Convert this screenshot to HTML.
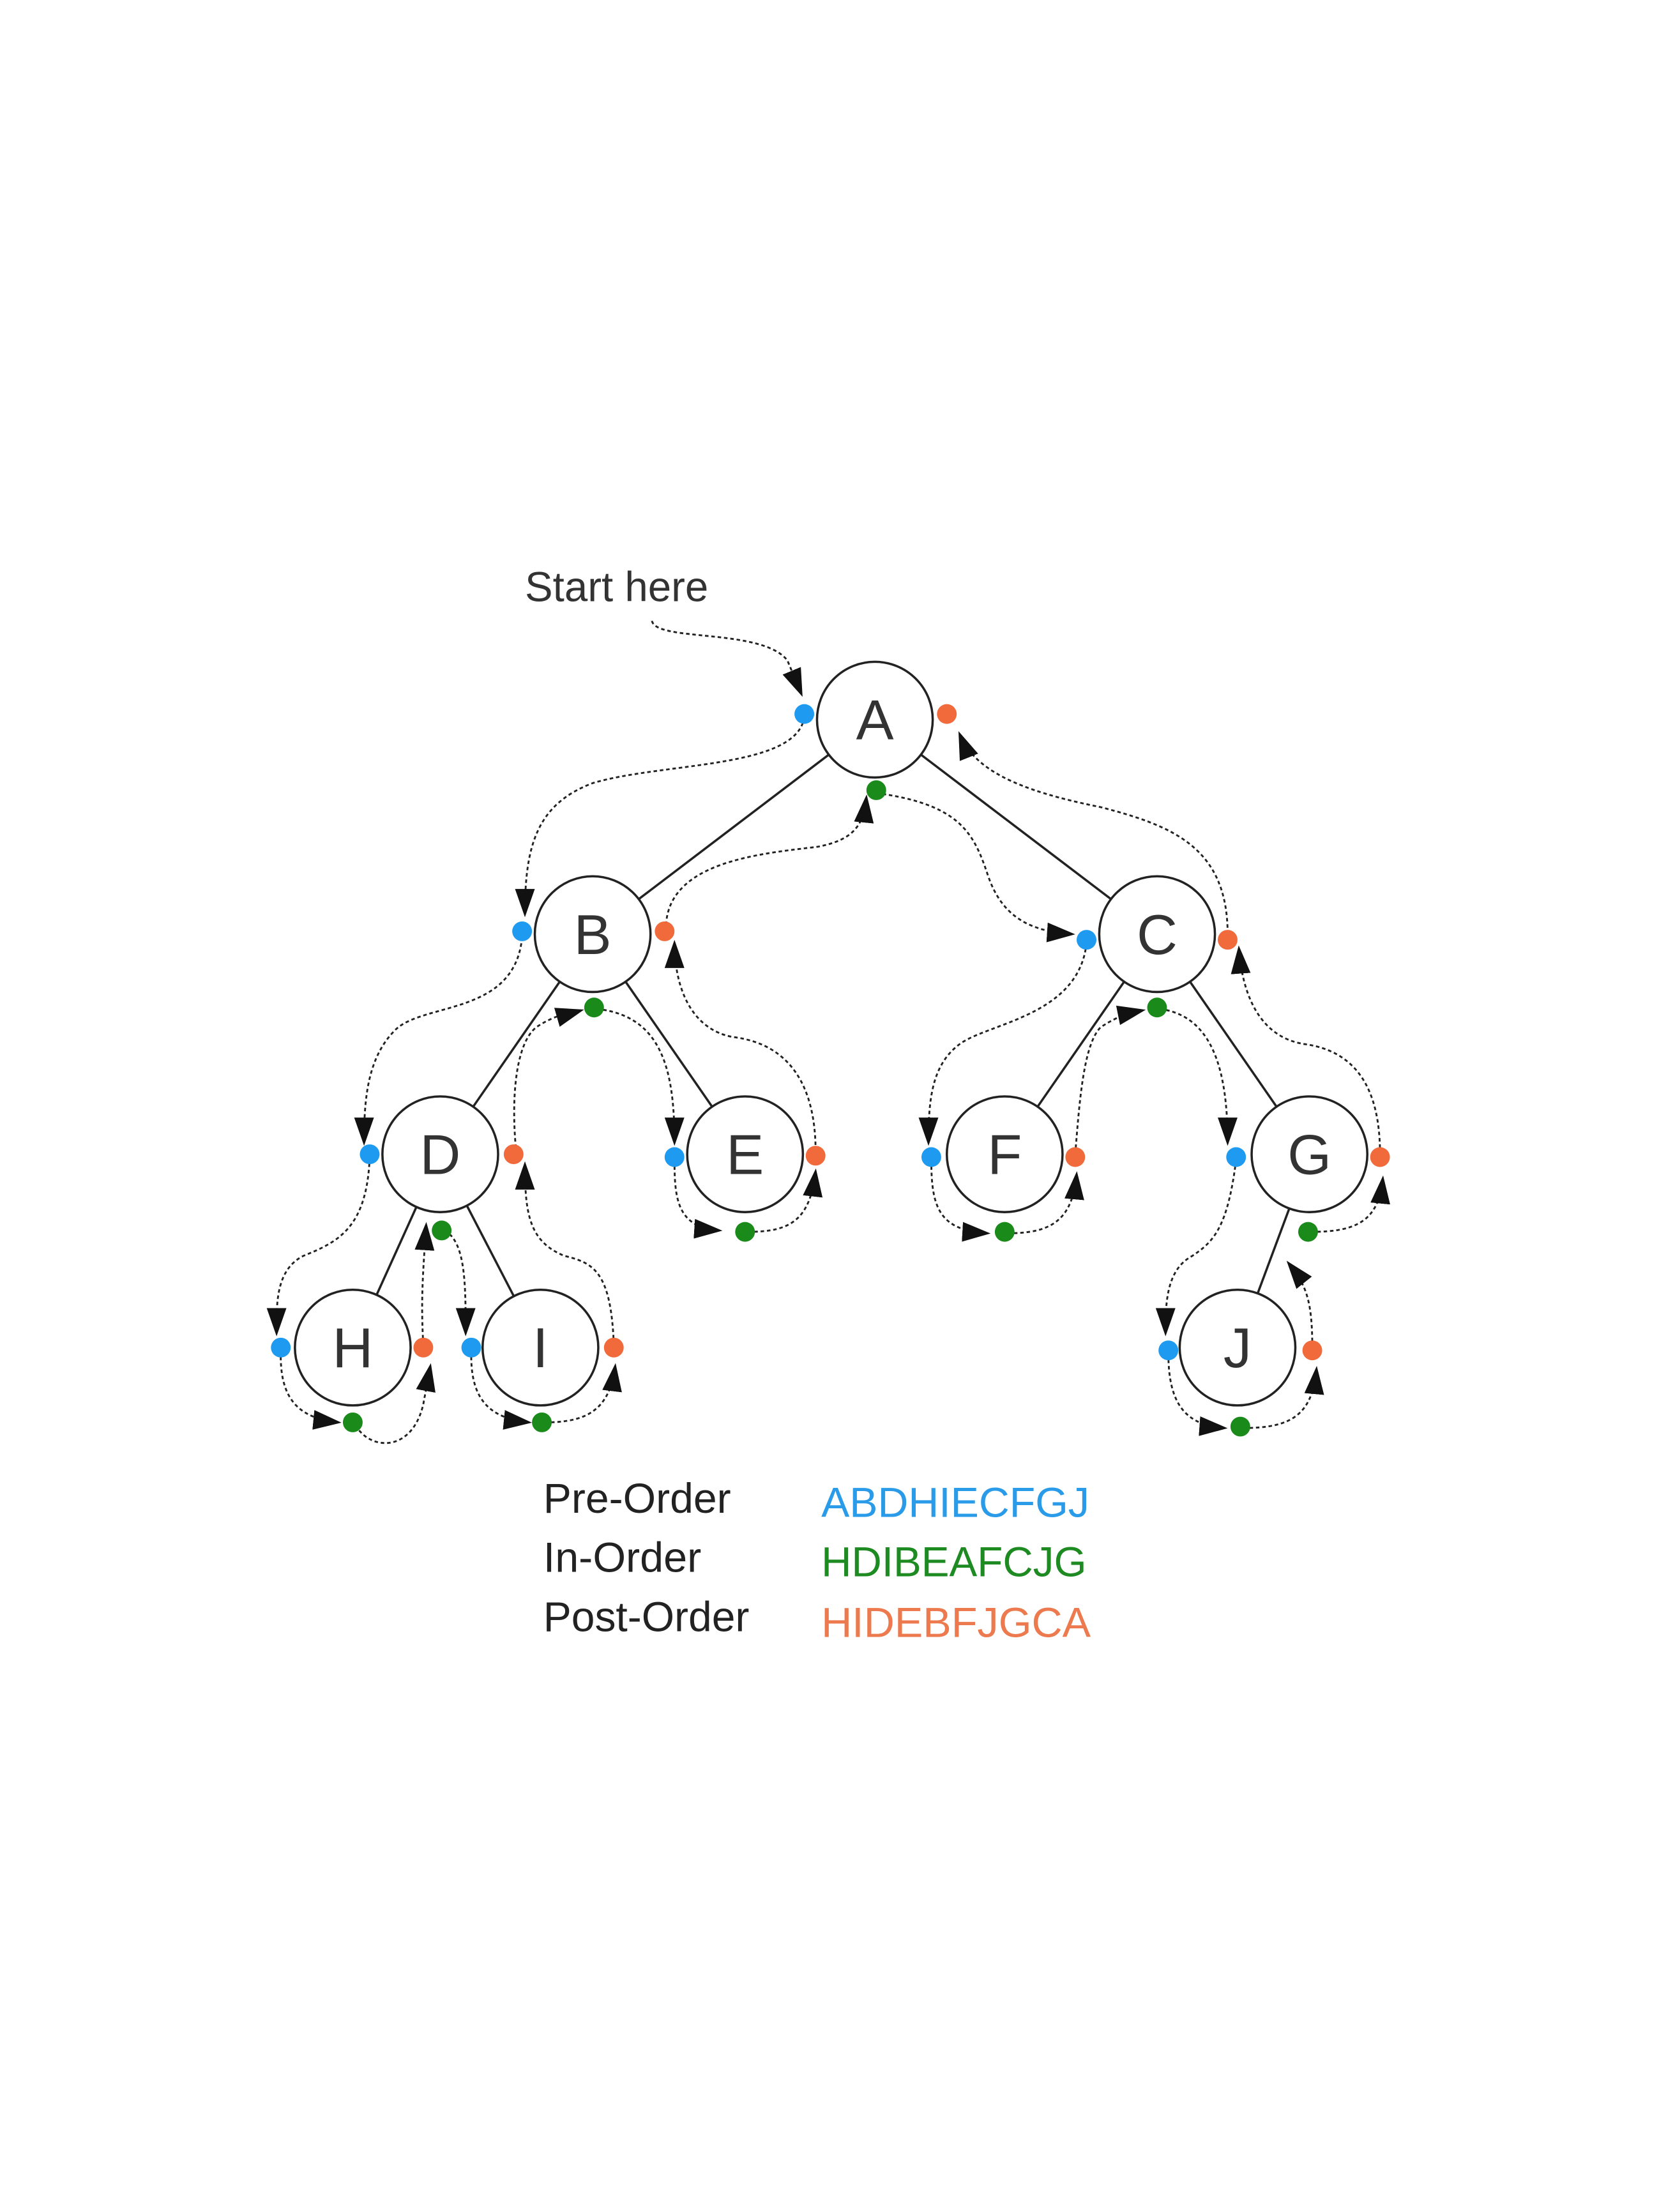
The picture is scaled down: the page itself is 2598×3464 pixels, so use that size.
<!DOCTYPE html>
<html><head><meta charset="utf-8"><style>
html,body{margin:0;padding:0;background:#fff;}
svg{display:block;}
</style></head><body>
<svg width="2598" height="3464" viewBox="0 0 1175.7 1567.6" xmlns="http://www.w3.org/2000/svg">
<defs>
<marker id="ar" markerUnits="userSpaceOnUse" markerWidth="20" markerHeight="14" refX="18" refY="7" orient="auto">
<path d="M0,0 L20,7 L0,14 Z" fill="#111"/>
</marker>
</defs>
<rect width="1175.7" height="1567.6" fill="#fff"/>
<g stroke="#222" stroke-width="1.6">
<line x1="620" y1="510" x2="420" y2="662"/>
<line x1="620" y1="510" x2="820" y2="662"/>
<line x1="420" y1="662" x2="312" y2="818"/>
<line x1="420" y1="662" x2="528" y2="818"/>
<line x1="820" y1="662" x2="712" y2="818"/>
<line x1="820" y1="662" x2="928" y2="818"/>
<line x1="312" y1="818" x2="250" y2="955"/>
<line x1="312" y1="818" x2="383" y2="955"/>
<line x1="928" y1="818" x2="877" y2="955"/>
</g>
<g fill="none" stroke="#222" stroke-width="1.3" stroke-dasharray="2.5,2" marker-end="url(#ar)">
<path d="M462,440 C465,455 540,445 558,468 L568,492"/>
<path d="M570,508 C565,545 470,540 420,555 C380,570 372,600 372,648"/>
<path d="M472,660 C470,610 540,605 580,600 C605,595 612,585 614,565"/>
<path d="M621,562 C680,570 690,590 700,620 C710,650 730,660 760,662"/>
<path d="M870,662 C870,600 830,585 780,572 C720,560 690,545 680,520"/>
<path d="M370,664 C365,720 300,710 280,730 C260,750 258,780 258,810"/>
<path d="M366,818 C362,780 365,740 380,728 C395,718 405,718 412,716"/>
<path d="M423,715 C470,720 478,760 478,810"/>
<path d="M578,816 C578,770 560,740 520,735 C490,730 478,700 478,668"/>
<path d="M478,822 C478,850 480,870 510,872"/>
<path d="M530,873 C560,873 574,865 578,830"/>
<path d="M262,820 C260,870 240,880 215,890 C195,900 196,925 196,945"/>
<path d="M199,957 C198,990 210,1005 240,1008"/>
<path d="M252,1010 C262,1028 292,1030 300,995 L305,968"/>
<path d="M300,953 C298,920 300,900 302,868"/>
<path d="M315,872 C330,880 330,910 330,945"/>
<path d="M334,957 C333,990 345,1005 375,1008"/>
<path d="M386,1008 C415,1008 432,1000 436,968"/>
<path d="M435,953 C433,900 420,895 400,890 C375,880 372,860 372,825"/>
<path d="M770,668 C765,720 700,725 680,740 C660,755 658,780 658,810"/>
<path d="M660,822 C660,855 665,872 700,874"/>
<path d="M714,874 C745,874 760,865 763,832"/>
<path d="M762,818 C765,780 768,740 780,728 C795,718 805,717 810,716"/>
<path d="M822,715 C860,720 870,760 870,810"/>
<path d="M978,818 C978,770 960,745 925,740 C890,735 880,700 878,672"/>
<path d="M876,822 C870,870 860,880 845,890 C826,900 826,925 826,945"/>
<path d="M828,959 C828,995 840,1010 868,1012"/>
<path d="M881,1012 C915,1012 930,1003 933,970"/>
<path d="M930,955 C930,920 925,910 913,895"/>
<path d="M929,873 C962,873 977,865 980,835"/>
</g>
<g fill="#fff" stroke="#222" stroke-width="1.6">
<circle cx="620" cy="510" r="41"/>
<circle cx="420" cy="662" r="41"/>
<circle cx="820" cy="662" r="41"/>
<circle cx="312" cy="818" r="41"/>
<circle cx="528" cy="818" r="41"/>
<circle cx="712" cy="818" r="41"/>
<circle cx="928" cy="818" r="41"/>
<circle cx="250" cy="955" r="41"/>
<circle cx="383" cy="955" r="41"/>
<circle cx="877" cy="955" r="41"/>
</g>
<g font-family="Liberation Sans, sans-serif" font-size="40" fill="#333" text-anchor="middle">
<text x="620" y="524">A</text>
<text x="420" y="676">B</text>
<text x="820" y="676">C</text>
<text x="312" y="832">D</text>
<text x="528" y="832">E</text>
<text x="712" y="832">F</text>
<text x="928" y="832">G</text>
<text x="250" y="969">H</text>
<text x="383" y="969">I</text>
<text x="877" y="969">J</text>
</g>
<g fill="#1e9bf0">
<circle cx="570" cy="506" r="7"/><circle cx="370" cy="660" r="7"/><circle cx="770" cy="666" r="7"/>
<circle cx="262" cy="818" r="7"/><circle cx="478" cy="820" r="7"/><circle cx="660" cy="820" r="7"/>
<circle cx="876" cy="820" r="7"/><circle cx="199" cy="955" r="7"/><circle cx="334" cy="955" r="7"/><circle cx="828" cy="957" r="7"/>
</g>
<g fill="#f06a3c">
<circle cx="671" cy="506" r="7"/><circle cx="471" cy="660" r="7"/><circle cx="870" cy="666" r="7"/>
<circle cx="364" cy="818" r="7"/><circle cx="578" cy="819" r="7"/><circle cx="762" cy="820" r="7"/>
<circle cx="978" cy="820" r="7"/><circle cx="300" cy="955" r="7"/><circle cx="435" cy="955" r="7"/><circle cx="930" cy="957" r="7"/>
</g>
<g fill="#1a8a1a">
<circle cx="621" cy="560" r="7"/><circle cx="421" cy="714" r="7"/><circle cx="820" cy="714" r="7"/>
<circle cx="313" cy="872" r="7"/><circle cx="528" cy="873" r="7"/><circle cx="712" cy="873" r="7"/>
<circle cx="927" cy="873" r="7"/><circle cx="250" cy="1008" r="7"/><circle cx="384" cy="1008" r="7"/><circle cx="879" cy="1011" r="7"/>
</g>
<g font-family="Liberation Sans, sans-serif" font-size="30">
<text x="372" y="426" fill="#333" textLength="130" lengthAdjust="spacingAndGlyphs">Start here</text>
<text x="385" y="1072" fill="#222" textLength="133" lengthAdjust="spacingAndGlyphs">Pre-Order</text>
<text x="385" y="1114" fill="#222" textLength="112" lengthAdjust="spacingAndGlyphs">In-Order</text>
<text x="385" y="1156" fill="#222" textLength="146" lengthAdjust="spacingAndGlyphs">Post-Order</text>
<text x="582" y="1075" fill="#2a9be8" textLength="190" lengthAdjust="spacingAndGlyphs">ABDHIECFGJ</text>
<text x="582" y="1117" fill="#1e8a22" textLength="188" lengthAdjust="spacingAndGlyphs">HDIBEAFCJG</text>
<text x="582" y="1160" fill="#ec7a4e" textLength="191" lengthAdjust="spacingAndGlyphs">HIDEBFJGCA</text>
</g>
</svg>
</body></html>
